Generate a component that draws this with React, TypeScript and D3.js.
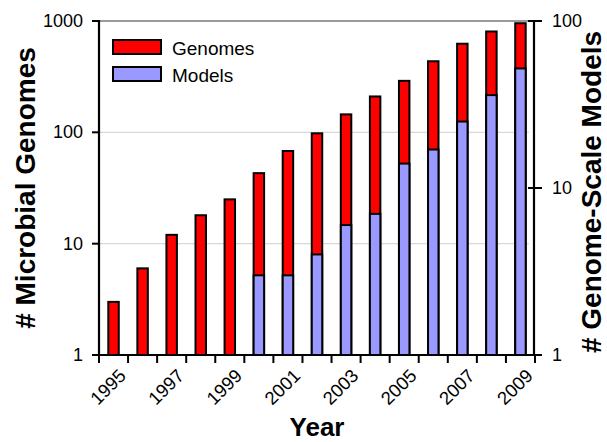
import React, { useEffect, useRef } from 'react';
import * as d3 from 'd3';

const YEARS = [1995, 1996, 1997, 1998, 1999, 2000, 2001, 2002, 2003, 2004, 2005, 2006, 2007, 2008, 2009];
const GENOMES = [3, 6, 12, 18, 25, 43, 68, 98, 145, 210, 290, 435, 625, 805, 955];
const MODELS = [null, null, null, null, null, 3, 3, 4, 6, 7, 14, 17, 25, 36, 52];
const LEFT_TICKS = [1, 10, 100, 1000];
const RIGHT_TICKS = [1, 10, 100];
const YEAR_LABELS = [1995, 1997, 1999, 2001, 2003, 2005, 2007, 2009];

const FONT = 'Arial, "Liberation Sans", Helvetica, sans-serif';

export default function App() {
  const svgRef = useRef<SVGSVGElement | null>(null);

  const W = 607;
  const H = 442;
  const MARGIN = { top: 21, right: 72, bottom: 87, left: 99 };

  useEffect(() => {
    const svg = d3.select(svgRef.current);
    svg.selectAll('*').remove();

    const x0 = MARGIN.left;
    const x1 = W - MARGIN.right;
    const yTop = MARGIN.top;
    const yBot = H - MARGIN.bottom;

    const x = d3.scaleBand<number>().domain(YEARS).range([x0, x1]).padding(0);
    const yLeft = d3.scaleLog().domain([1, 1000]).range([yBot, yTop]);
    const yRight = d3.scaleLog().domain([1, 100]).range([yBot, yTop]);
    const barW = x.bandwidth() * 0.36;

    // gridlines
    LEFT_TICKS.filter(t => t > 1).forEach(t => {
      svg.append('line')
        .attr('x1', x0).attr('x2', x1 - 6)
        .attr('y1', yLeft(t)).attr('y2', yLeft(t))
        .attr('stroke', t === 1000 ? '#9a9a9a' : '#d8d8d8')
        .attr('stroke-width', t === 1000 ? 2 : 1.3);
    });

    // genome bars
    svg.append('g').selectAll('rect')
      .data(YEARS.map((yr, i) => ({ yr, v: GENOMES[i] })))
      .join('rect')
      .attr('x', d => (x(d.yr) as number) + x.bandwidth() / 2 - barW / 2)
      .attr('y', d => yLeft(d.v))
      .attr('width', barW)
      .attr('height', d => yBot - yLeft(d.v))
      .attr('fill', '#ff0000')
      .attr('stroke', '#000')
      .attr('stroke-width', 2);

    // model bars (right axis)
    svg.append('g').selectAll('rect')
      .data(YEARS.map((yr, i) => ({ yr, v: MODELS[i] })).filter(d => d.v != null))
      .join('rect')
      .attr('x', d => (x(d.yr) as number) + x.bandwidth() / 2 - barW / 2)
      .attr('y', d => yRight(d.v as number))
      .attr('width', barW)
      .attr('height', d => yBot - yRight(d.v as number))
      .attr('fill', '#9999ff')
      .attr('stroke', '#000')
      .attr('stroke-width', 2);

    // left axis
    svg.append('line')
      .attr('x1', x0).attr('x2', x0).attr('y1', yTop - 1).attr('y2', yBot + 1)
      .attr('stroke', '#000').attr('stroke-width', 2.2);
    LEFT_TICKS.forEach(t => {
      svg.append('line')
        .attr('x1', x0 - 7).attr('x2', x0)
        .attr('y1', yLeft(t)).attr('y2', yLeft(t))
        .attr('stroke', '#000').attr('stroke-width', 2);
      svg.append('text')
        .attr('x', x0 - 16).attr('y', yLeft(t))
        .attr('text-anchor', 'end')
        .attr('dominant-baseline', 'central')
        .style('font-family', FONT).style('font-size', '18px')
        .text(t);
    });

    // right axis
    const xr = x1 - 1;
    svg.append('line')
      .attr('x1', xr).attr('x2', xr).attr('y1', yTop - 1).attr('y2', yBot + 1)
      .attr('stroke', '#000').attr('stroke-width', 2.2);
    RIGHT_TICKS.forEach(t => {
      svg.append('line')
        .attr('x1', xr - 6).attr('x2', xr + 8)
        .attr('y1', yRight(t)).attr('y2', yRight(t))
        .attr('stroke', '#000').attr('stroke-width', 2);
      svg.append('text')
        .attr('x', xr + 18).attr('y', yRight(t))
        .attr('text-anchor', 'start')
        .attr('dominant-baseline', 'central')
        .style('font-family', FONT).style('font-size', '18px')
        .text(t);
    });

    // bottom axis
    svg.append('line')
      .attr('x1', x0 - 7).attr('x2', xr + 8).attr('y1', yBot).attr('y2', yBot)
      .attr('stroke', '#000').attr('stroke-width', 2.2);
    [...YEARS.map(yr => x(yr) as number), x1].forEach(px => {
      svg.append('line')
        .attr('x1', px).attr('x2', px).attr('y1', yBot).attr('y2', yBot + 8)
        .attr('stroke', '#000').attr('stroke-width', 2);
    });
    YEAR_LABELS.forEach(yr => {
      const cx = (x(yr) as number) + x.bandwidth() / 2 + 13.5;
      svg.append('text')
        .attr('transform', `translate(${cx},${yBot + 22}) rotate(-45)`)
        .attr('text-anchor', 'end')
        .style('font-family', FONT).style('font-size', '18.5px')
        .text(yr);
    });

    // axis titles
    svg.append('text')
      .attr('x', (x0 + x1) / 2).attr('y', 436)
      .attr('text-anchor', 'middle')
      .style('font-family', FONT).style('font-size', '26px').style('font-weight', '700')
      .text('Year');

    svg.append('text')
      .attr('transform', `translate(35,${(yTop + yBot) / 2}) rotate(-90)`)
      .attr('text-anchor', 'middle')
      .style('font-family', FONT).style('font-size', '28px').style('font-weight', '700')
      .text('# Microbial Genomes');

    svg.append('text')
      .attr('transform', `translate(601,${(yTop + yBot) / 2 + 4}) rotate(-90)`)
      .attr('text-anchor', 'middle')
      .style('font-family', FONT).style('font-size', '28px').style('font-weight', '700')
      .text('# Genome-Scale Models');

    // legend
    const legend = [
      { label: 'Genomes', color: '#ff0000' },
      { label: 'Models', color: '#9999ff' },
    ];
    legend.forEach((d, i) => {
      const ly = 40 + i * 27;
      svg.append('rect')
        .attr('x', 113).attr('y', ly).attr('width', 48).attr('height', 14)
        .attr('fill', d.color).attr('stroke', '#000').attr('stroke-width', 2);
      svg.append('text')
        .attr('x', 172).attr('y', ly + 15)
        .style('font-family', FONT).style('font-size', '19px')
        .text(d.label);
    });
  }, []);

  return (
    <svg ref={svgRef} width={W} height={H}
      style={{ position: 'absolute', left: 0, top: 0, background: '#fff' }} />
  );
}
